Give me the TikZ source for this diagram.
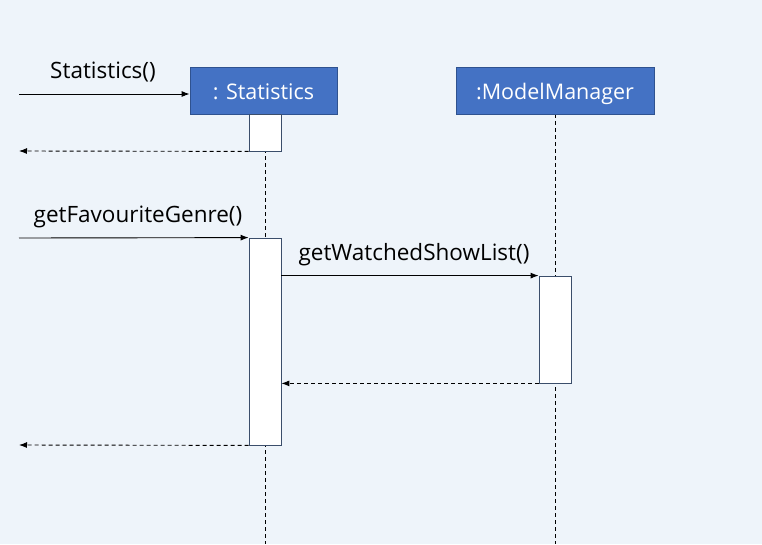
\documentclass[tikz,border=0pt]{standalone}
\usepackage{fontspec}
\setmainfont{Open Sans}
\usetikzlibrary{arrows.meta}
\definecolor{bg}{HTML}{EEF4FA}
\definecolor{hdr}{HTML}{4472C4}
\definecolor{hdrline}{HTML}{2F528F}
\definecolor{actline}{HTML}{3B4E6B}
\tikzset{
  hdrbox/.style={draw=hdrline, fill=hdr, line width=0.8pt, text=white, font=\fontsize{21.5}{24}\selectfont, inner sep=0pt, text height=21.5pt, text depth=4pt},
  act/.style={draw=actline, fill=white, line width=0.8pt},
  life/.style={draw=black, dashed, dash pattern=on 4pt off 3pt, line width=0.7pt},
  msg/.style={draw=black, line width=0.9pt, -{Latex[length=8pt,width=6pt]}},
  ret/.style={draw=black, line width=0.9pt, dash pattern=on 4pt off 3pt, -{Latex[length=8pt,width=6pt]}},
  lbl/.style={font=\fontsize{22.5}{26}\selectfont, inner sep=0pt}
}
\begin{document}
\begin{tikzpicture}[x=1pt,y=-1pt]
\fill[bg] (0,0) rectangle (762,544);
\useasboundingbox (0,0) rectangle (762,544);
% lifelines
\coordinate (s0) at (265,114);
\coordinate (s1) at (265,544);
\coordinate (m0) at (555,114);
\coordinate (m1) at (555,544);
\draw[life] (s0) -- (s1);
\draw[life] (m0) -- (m1);
% headers
\node[hdrbox, minimum width=147pt, minimum height=47pt] (stat) at (263.5,90.5) {: Statistics};
\node[hdrbox, minimum width=198pt, minimum height=47pt] (mm) at (555,90.5) {:ModelManager};
% activations
\node[act, minimum width=32pt, minimum height=37pt, inner sep=0pt] (a1) at (265,132.5) {};
\node[act, minimum width=32pt, minimum height=207pt, inner sep=0pt] (a2) at (265,341.5) {};
\node[act, minimum width=32pt, minimum height=107pt, inner sep=0pt] (a3) at (555,329.5) {};
% free ends
\coordinate (l1) at (19,94);
\coordinate (l2) at (19,151);
\coordinate (l3) at (19,238);
\coordinate (l4) at (19,445);
% messages
\draw[msg] (l1) -- (stat.west |- l1);
\node[lbl] (t1) at (103,72) {Statistics()};
\draw[ret] (a1.south west) -- (l2);
\draw[msg] (l3) -- (a2.north west);
\node[lbl] (t2) at (138,217) {getFavouriteGenre()};
\draw[msg] (a2.east |- a3.north) -- (a3.north west);
\node[lbl] (t3) at (414,255) {getWatchedShowList()};
\draw[ret] (a3.south west) -- (a2.east |- a3.south);
\draw[ret] (a2.south west) -- (l4);
\end{tikzpicture}
\end{document}
